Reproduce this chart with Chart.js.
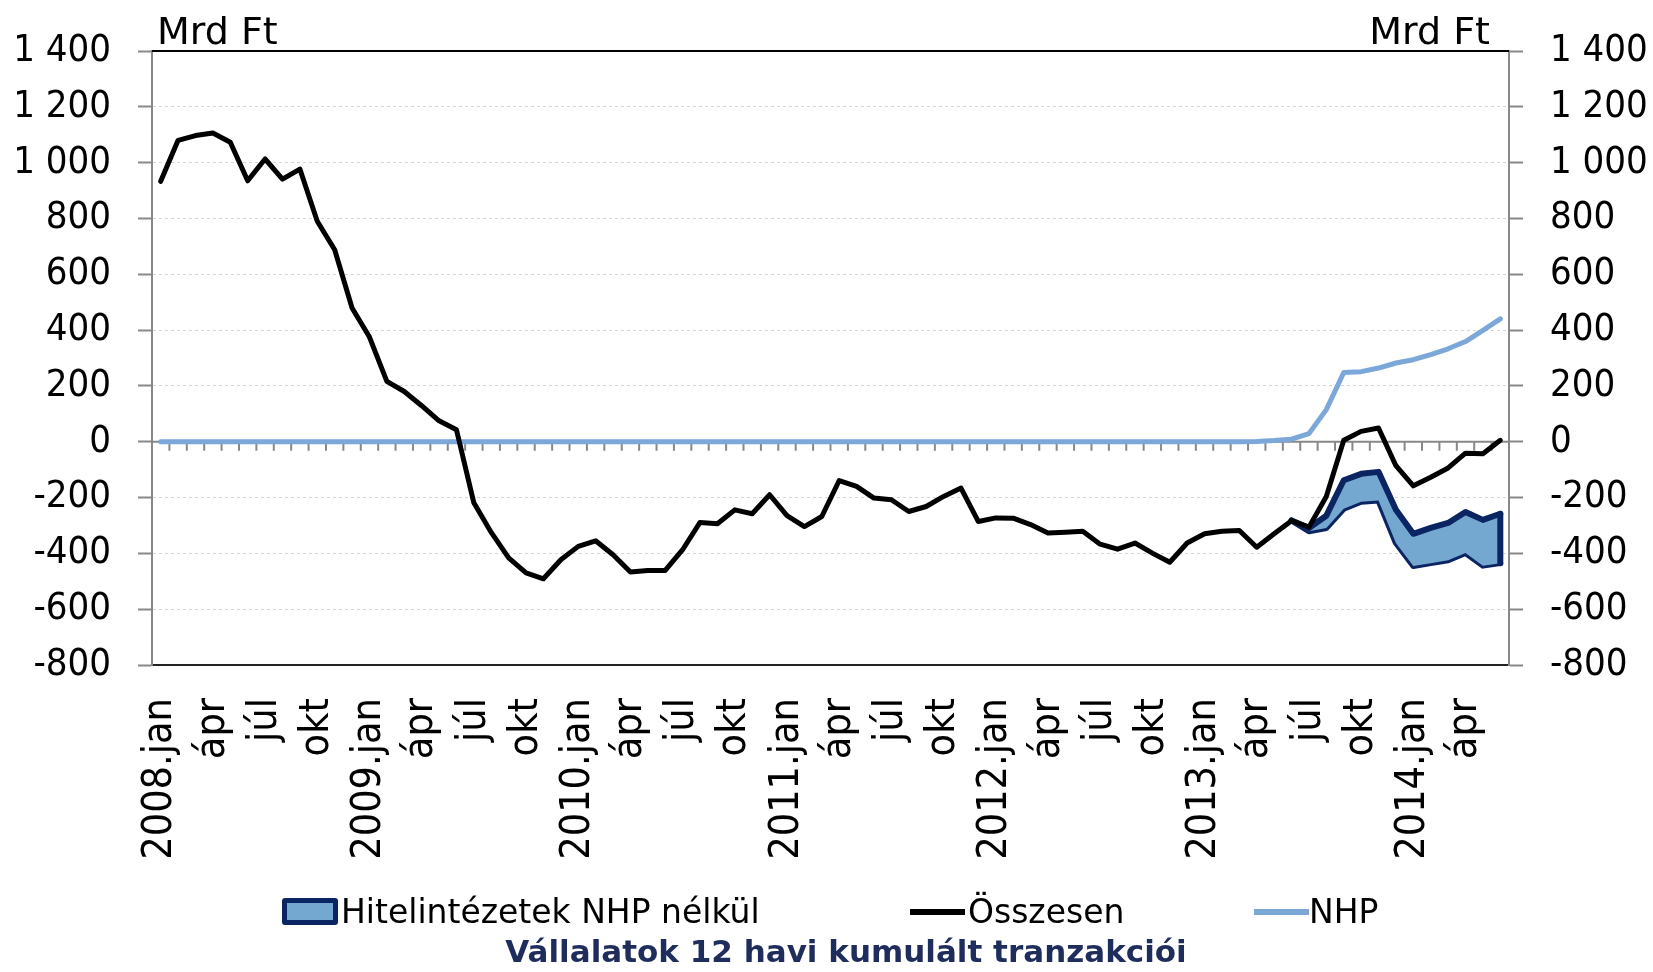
<!DOCTYPE html>
<html>
<head>
<meta charset="utf-8">
<script src="https://cdn.jsdelivr.net/npm/chart.js@4.4.1/dist/chart.umd.min.js"></script>
<style>
  body { margin: 0; background: #fff; }
  #wrap { position: relative; width: 1653px; height: 972px; font-family: "DejaVu Sans", sans-serif; }
  #wrap canvas { position: absolute; left: 0; top: 0; }
  .unit { position: absolute; top: 8px; font-size: 38px; line-height: 46px; color: #000; }
  .leg { position: absolute; top: 893px; height: 38px; font-size: 33px; line-height: 38px; color: #000; white-space: nowrap; }
  .sw { position: absolute; }
  #title { position: absolute; left: 0; width: 1692px; top: 931px; text-align: center; font-weight: bold; font-size: 31px; line-height: 40px; color: #1f2d5c; }
</style>
</head>
<body>
<div id="wrap">
  <canvas id="chart" width="1653" height="972"></canvas>
  <div class="unit" style="left:157px;">Mrd Ft</div>
  <div class="unit" style="right:163px;">Mrd Ft</div>
  <div id="legend"></div>
  <div id="title">Vállalatok 12 havi kumulált tranzakciói</div>
</div>
<script>
// havi címkék, 2008.jan - 2014.jún (csak minden 3. látszik)
var monthLabels = [
  '2008.jan','','','ápr','','','júl','','','okt','','',
  '2009.jan','','','ápr','','','júl','','','okt','','',
  '2010.jan','','','ápr','','','júl','','','okt','','',
  '2011.jan','','','ápr','','','júl','','','okt','','',
  '2012.jan','','','ápr','','','júl','','','okt','','',
  '2013.jan','','','ápr','','','júl','','','okt','','',
  '2014.jan','','','ápr','',''
];

var osszesen = [
  933, 1080, 1097, 1106, 1073, 935, 1013, 941, 977, 790, 688, 479,
  375, 216, 180, 129, 75, 43, -219, -325, -416, -470, -491, -423,
  -375, -355, -405, -467, -461, -461, -387, -289, -294, -244, -258, -190,
  -265, -304, -268, -139, -160, -202, -208, -250, -232, -196, -166, -286,
  -273, -274, -297, -327, -324, -321, -367, -385, -363, -399, -432, -363,
  -330, -321, -318, -378, -330, -283, -306, -196, 5, 37, 49, -86,
  -158, -127, -94, -41, -43, 5
];

var nhp = [
  0, 0, 0, 0, 0, 0, 0, 0, 0, 0, 0, 0,
  0, 0, 0, 0, 0, 0, 0, 0, 0, 0, 0, 0,
  0, 0, 0, 0, 0, 0, 0, 0, 0, 0, 0, 0,
  0, 0, 0, 0, 0, 0, 0, 0, 0, 0, 0, 0,
  0, 0, 0, 0, 0, 0, 0, 0, 0, 0, 0, 0,
  0, 0, 0, 1, 4, 9, 29, 115, 248, 251, 264, 282,
  294, 312, 333, 359, 399, 440
];

// Hitelintézetek NHP nélkül: sáv felső és alsó széle
var savFelso = [
  null, null, null, null, null, null, null, null, null, null, null, null,
  null, null, null, null, null, null, null, null, null, null, null, null,
  null, null, null, null, null, null, null, null, null, null, null, null,
  null, null, null, null, null, null, null, null, null, null, null, null,
  null, null, null, null, null, null, null, null, null, null, null, null,
  null, null, null, null, null, -282, -309, -265, -138, -115, -108, -244,
  -330, -309, -291, -252, -280, -258
];
var savAlso = [
  null, null, null, null, null, null, null, null, null, null, null, null,
  null, null, null, null, null, null, null, null, null, null, null, null,
  null, null, null, null, null, null, null, null, null, null, null, null,
  null, null, null, null, null, null, null, null, null, null, null, null,
  null, null, null, null, null, null, null, null, null, null, null, null,
  null, null, null, null, null, -282, -321, -309, -240, -215, -211, -363,
  -445, -435, -425, -399, -444, -435
];

var seriesNames = ['Hitelintézetek NHP nélkül', 'Összesen', 'NHP'];

var navy = '#0b2462';
var bandFill = '#74a8d1';
var nhpColor = '#7ba7d9';
var fontName = '"DejaVu Sans Condensed", "DejaVu Sans", sans-serif';

function fmtNum(v) {
  var s = Math.abs(v).toString();
  if (s.length > 3) s = s.slice(0, -3) + ' ' + s.slice(-3);
  return (v < 0 ? '-' : '') + s;
}

// nulla-tengely kategória osztásokkal + felső keretvonal
var zeroAxis = {
  id: 'zeroAxis',
  beforeDatasetsDraw: function(chart) {
    var ctx = chart.ctx, area = chart.chartArea;
    var xs = chart.scales.x, y0 = chart.scales.y.getPixelForValue(0);
    ctx.save();
    ctx.strokeStyle = '#888888';
    ctx.lineWidth = 2;
    ctx.beginPath();
    ctx.moveTo(area.left, y0);
    ctx.lineTo(area.right, y0);
    for (var k = 1; k < monthLabels.length; k++) {
      var xp = (xs.getPixelForValue(k - 1) + xs.getPixelForValue(k)) / 2;
      ctx.moveTo(xp, y0);
      ctx.lineTo(xp, y0 + 9);
    }
    ctx.stroke();
    ctx.strokeStyle = '#000';
    ctx.beginPath();
    ctx.moveTo(area.left, area.top);
    ctx.lineTo(area.right, area.top);
    ctx.stroke();
    ctx.restore();
  },
  afterDatasetsDraw: function(chart) {
    // a sáv jobb oldali lezárása
    var m1 = chart.getDatasetMeta(0), m2 = chart.getDatasetMeta(1);
    var p1 = m1.data[m1.data.length - 1], p2 = m2.data[m2.data.length - 1];
    var ctx = chart.ctx;
    ctx.save();
    ctx.strokeStyle = navy;
    ctx.lineWidth = 6;
    ctx.lineCap = 'round';
    ctx.beginPath();
    ctx.moveTo(p1.x, p1.y);
    ctx.lineTo(p2.x, p2.y);
    ctx.stroke();
    ctx.restore();
  }
};

var gridColor = function(c) {
  var v = c.tick ? c.tick.value : null;
  if (v === 1400 || v === -800 || v === 0) return 'rgba(0,0,0,0)';
  return '#d4d4d4';
};

var yTicks = {
  stepSize: 200,
  padding: 27,
  color: '#000',
  font: { family: fontName, size: 38 },
  callback: function(v) { return fmtNum(v); }
};

var ctx = document.getElementById('chart').getContext('2d');
var myChart = new Chart(ctx, {
  type: 'line',
  data: {
    labels: monthLabels,
    datasets: [
      {
        label: seriesNames[0],
        data: savFelso,
        borderColor: navy,
        borderWidth: 6,
        backgroundColor: bandFill,
        fill: '+1',
        order: 2
      },
      {
        label: seriesNames[0] + ' (alsó)',
        data: savAlso,
        borderColor: navy,
        borderWidth: 6,
        fill: false,
        order: 3
      },
      {
        label: seriesNames[1],
        data: osszesen,
        borderColor: '#000',
        borderWidth: 5,
        fill: false,
        order: 0
      },
      {
        label: seriesNames[2],
        data: nhp,
        borderColor: nhpColor,
        borderWidth: 5,
        fill: false,
        order: 1
      }
    ]
  },
  options: {
    responsive: false,
    animation: false,
    devicePixelRatio: 1,
    spanGaps: false,
    elements: {
      point: { radius: 0, hoverRadius: 0 },
      line: { tension: 0, borderJoinStyle: 'round', borderCapStyle: 'round' }
    },
    layout: { padding: { top: 51, left: 0, right: 0, bottom: 0 } },
    plugins: {
      legend: { display: false },
      title: { display: false },
      tooltip: { enabled: false }
    },
    scales: {
      x: {
        type: 'category',
        offset: true,
        grid: { display: false },
        border: { display: true, color: '#222', width: 2 },
        ticks: {
          autoSkip: false,
          maxRotation: 90,
          minRotation: 90,
          padding: 25,
          color: '#000',
          font: { family: fontName, size: 41 }
        },
        afterFit: function(s) { s.height = 307; }
      },
      y: {
        position: 'left',
        min: -800,
        max: 1400,
        grid: { color: gridColor, lineWidth: 1, tickColor: '#888', tickWidth: 2, tickLength: 14 },
        border: { display: true, color: '#888', width: 2, dash: [3, 3] },
        ticks: yTicks,
        afterFit: function(s) { s.width = 152; }
      },
      y2: {
        position: 'right',
        min: -800,
        max: 1400,
        grid: { drawOnChartArea: false, tickColor: '#888', tickWidth: 2, tickLength: 14 },
        border: { display: true, color: '#888', width: 2 },
        ticks: yTicks,
        afterFit: function(s) { s.width = 144; }
      }
    }
  },
  plugins: [zeroAxis]
});

// jelmagyarázat a sorozatokból
var legendItems = [
  { name: seriesNames[0], kind: 'box', left: 282, textLeft: 341 },
  { name: seriesNames[1], kind: 'line', color: '#000', left: 910, textLeft: 968 },
  { name: seriesNames[2], kind: 'line', color: nhpColor, left: 1254, textLeft: 1309 }
];
var legendEl = document.getElementById('legend');
legendItems.forEach(function(item) {
  var sw = document.createElement('div');
  sw.className = 'sw';
  if (item.kind === 'box') {
    sw.style.cssText = 'left:' + item.left + 'px;top:898px;width:46px;height:17px;border:5px solid ' + navy + ';border-radius:3px;background:' + bandFill + ';';
  } else {
    sw.style.cssText = 'left:' + item.left + 'px;top:909px;width:55px;height:6px;background:' + item.color + ';';
  }
  legendEl.appendChild(sw);
  var t = document.createElement('div');
  t.className = 'leg';
  t.style.left = item.textLeft + 'px';
  t.textContent = item.name;
  legendEl.appendChild(t);
});
</script>
</body>
</html>
